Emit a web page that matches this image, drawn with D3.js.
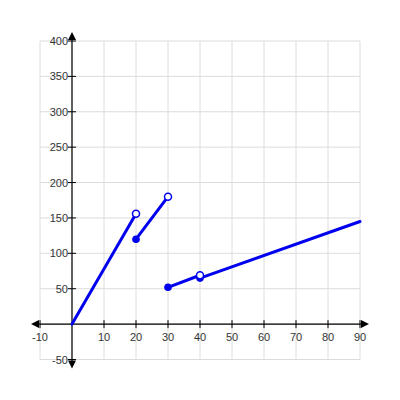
<!DOCTYPE html>
<html>
<head>
<meta charset="utf-8">
<script src="https://cdn.jsdelivr.net/npm/d3@7"></script>
<style>
  body { margin: 0; background: #fff; }
  text { font-family: "Liberation Sans", Arial, sans-serif; }
</style>
</head>
<body>
<div id="chart"></div>
<script>
// axis ticks
const xTicks = [-10, 10, 20, 30, 40, 50, 60, 70, 80, 90];
const yTicks = [-50, 50, 100, 150, 200, 250, 300, 350, 400];
const xGrid = [-10, 0, 10, 20, 30, 40, 50, 60, 70, 80, 90];
const yGrid = [-50, 0, 50, 100, 150, 200, 250, 300, 350, 400];

// piecewise segments: [x1, y1, x2, y2]
const segments = [
    [0, 0, 20, 156],
    [20, 120, 30, 180],
    [30, 52, 40, 69],
    [40, 65, 90, 145]
];
// endpoints
const closedPoints = [[20, 120], [30, 52], [40, 65]];
const openPoints = [[20, 156], [30, 180], [40, 69]];

const width = 400, height = 400;

const x = d3.scaleLinear().domain([-10, 90]).range([40, 360]);
const y = d3.scaleLinear().domain([-50, 400]).range([359.5, 41]);

const svg = d3.select("#chart")
    .append("svg")
    .attr("width", width)
    .attr("height", height);

// grid
svg.append("g").selectAll("line")
    .data(xGrid)
    .enter().append("line")
    .attr("x1", d => x(d)).attr("x2", d => x(d))
    .attr("y1", y(400)).attr("y2", y(-50))
    .attr("stroke", "#dcdcdc").attr("stroke-width", 1);

svg.append("g").selectAll("line")
    .data(yGrid)
    .enter().append("line")
    .attr("y1", d => y(d)).attr("y2", d => y(d))
    .attr("x1", x(-10)).attr("x2", x(90))
    .attr("stroke", "#dcdcdc").attr("stroke-width", 1);

// axes
const axisColor = "#000";
svg.append("line")
    .attr("x1", x(-10) - 6).attr("x2", x(90) + 6)
    .attr("y1", y(0)).attr("y2", y(0))
    .attr("stroke", axisColor).attr("stroke-width", 1.2);
svg.append("line")
    .attr("x1", x(0)).attr("x2", x(0))
    .attr("y1", y(400) - 6).attr("y2", y(-50) + 6)
    .attr("stroke", axisColor).attr("stroke-width", 1.2);

// arrow heads
const arrows = [
    [[x(90) + 9, y(0)], [x(90) + 1, y(0) - 4], [x(90) + 1, y(0) + 4]],
    [[x(-10) - 9, y(0)], [x(-10) - 1, y(0) - 4], [x(-10) - 1, y(0) + 4]],
    [[x(0), y(400) - 9], [x(0) - 4, y(400) - 1], [x(0) + 4, y(400) - 1]],
    [[x(0), y(-50) + 9], [x(0) - 4, y(-50) + 1], [x(0) + 4, y(-50) + 1]]
];
svg.append("g").selectAll("path")
    .data(arrows)
    .enter().append("path")
    .attr("d", d => "M" + d.join("L") + "Z")
    .attr("fill", axisColor);

// ticks
svg.append("g").selectAll("line")
    .data(xTicks)
    .enter().append("line")
    .attr("x1", d => x(d)).attr("x2", d => x(d))
    .attr("y1", y(0) - 4).attr("y2", y(0) + 4)
    .attr("stroke", axisColor);
svg.append("g").selectAll("line")
    .data(yTicks)
    .enter().append("line")
    .attr("y1", d => y(d)).attr("y2", d => y(d))
    .attr("x1", x(0) - 4).attr("x2", x(0) + 4)
    .attr("stroke", axisColor);

// tick labels
svg.append("g").selectAll("text")
    .data(xTicks)
    .enter().append("text")
    .attr("x", d => x(d))
    .attr("y", y(0) + 17)
    .attr("text-anchor", "middle")
    .attr("fill", "#333")
    .style("font-size", "11px")
    .text(d => d);
svg.append("g").selectAll("text")
    .data(yTicks)
    .enter().append("text")
    .attr("x", x(0) - 4)
    .attr("y", d => y(d) + 4)
    .attr("text-anchor", "end")
    .attr("fill", "#333")
    .style("font-size", "11px")
    .text(d => d);

// function segments
const blue = "#0000ee";
svg.append("g").selectAll("line")
    .data(segments)
    .enter().append("line")
    .attr("x1", d => x(d[0])).attr("y1", d => y(d[1]))
    .attr("x2", d => x(d[2])).attr("y2", d => y(d[3]))
    .attr("stroke", blue)
    .attr("stroke-width", 3)
    .attr("stroke-linecap", "round");

svg.append("g").selectAll("circle")
    .data(closedPoints)
    .enter().append("circle")
    .attr("cx", d => x(d[0])).attr("cy", d => y(d[1]))
    .attr("r", 3.8)
    .attr("fill", blue);

svg.append("g").selectAll("circle")
    .data(openPoints)
    .enter().append("circle")
    .attr("cx", d => x(d[0])).attr("cy", d => y(d[1]))
    .attr("r", 3.5)
    .attr("fill", "#fff")
    .attr("stroke", blue)
    .attr("stroke-width", 1.5);
</script>
</body>
</html>
